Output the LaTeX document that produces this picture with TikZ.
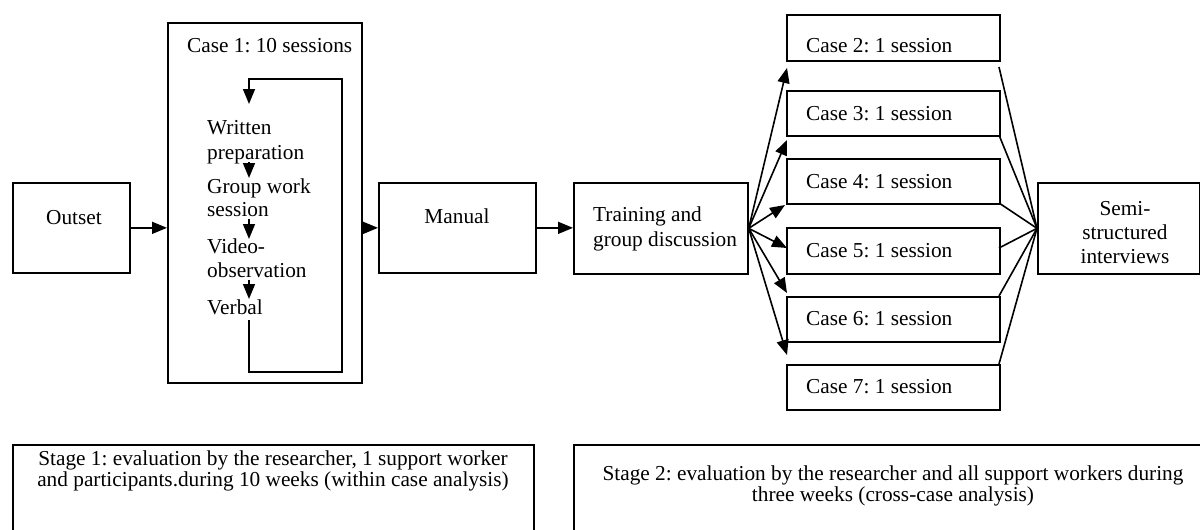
\documentclass[tikz,border=0pt]{standalone}
\usepackage{fontspec}
\setmainfont{Liberation Serif}
\usetikzlibrary{arrows.meta,calc}
\frenchspacing
\begin{document}
\begin{tikzpicture}[x=1pt,y=-1pt,
  box/.style={draw,line width=1.7pt,inner sep=0pt,anchor=north west},
  txt/.style={inner sep=0pt,anchor=base west,font=\fontsize{21.3}{25}\selectfont},
  ctxt/.style={inner sep=0pt,anchor=base,font=\fontsize{21.3}{25}\selectfont},
  arr/.style={line width=1.6pt,-{Triangle[length=15pt,width=12pt]}},
  ln/.style={line width=1.6pt}]
\useasboundingbox (0,0) rectangle (1200,530);

% boxes
\node[box,minimum width=117pt,minimum height=90pt] (outset) at (12,182) {};
\node[box,minimum width=194pt,minimum height=360pt] (case1) at (167,22) {};
\node[box,minimum width=157pt,minimum height=90pt] (manual) at (378,182) {};
\node[box,minimum width=174pt,minimum height=91pt] (train) at (573,182) {};
\node[box,minimum width=213pt,minimum height=46pt] (case2) at (786,14) {};
\node[box,minimum width=213pt,minimum height=45pt] (case3) at (786,90) {};
\node[box,minimum width=213pt,minimum height=45pt] (case4) at (786,158) {};
\node[box,minimum width=213pt,minimum height=46pt] (case5) at (786,227) {};
\node[box,minimum width=213pt,minimum height=45pt] (case6) at (786,296) {};
\node[box,minimum width=213pt,minimum height=45pt] (case7) at (786,364) {};
\node[box,minimum width=162pt,minimum height=91pt] (semi) at (1037,182) {};
\node[box,minimum width=521pt,minimum height=95pt] (stage1) at (12,444) {};
\node[box,minimum width=645pt,minimum height=95pt] (stage2) at (573,444) {};

% texts
\node[ctxt] (tOutset) at (74,224) {Outset};
\node[txt] (tCase1) at (187,52) {Case 1: 10 sessions};
\node[txt] (tWrA) at (207,134) {Written};
\node[txt] (tWrB) at (207,159) {preparation};
\node[txt] (tGrA) at (207,193) {Group work};
\node[txt] (tGrB) at (207,216) {session};
\node[txt] (tViA) at (207,253) {Video-};
\node[txt] (tViB) at (207,277) {observation};
\node[txt] (tVerbal) at (207,314) {Verbal};
\node[ctxt] (tManual) at (457,223) {Manual};
\node[txt] (tTrA) at (593,221) {Training and};
\node[txt] (tTrB) at (593,246) {group discussion};
\node[txt] (tC2) at (806,52) {Case 2: 1 session};
\node[txt] (tC3) at (806,120) {Case 3: 1 session};
\node[txt] (tC4) at (806,188) {Case 4: 1 session};
\node[txt] (tC5) at (806,257) {Case 5: 1 session};
\node[txt] (tC6) at (806,325) {Case 6: 1 session};
\node[txt] (tC7) at (806,393) {Case 7: 1 session};
\node[ctxt] (tSeA) at (1125,215) {Semi-};
\node[ctxt] (tSeB) at (1125,239) {structured};
\node[ctxt] (tSeC) at (1125,263) {interviews};
\node[ctxt] (tS1A) at (273,465) {Stage 1: evaluation by the researcher, 1 support worker};
\node[ctxt] (tS1B) at (273,486) {and participants.during 10 weeks (within case analysis)};
\node[ctxt] (tS2A) at (893,480) {Stage 2: evaluation by the researcher and all support workers during};
\node[ctxt] (tS2B) at (893,501) {three weeks (cross-case analysis)};

% main flow
\draw[arr] (outset.east) -- (outset.east -| case1.west);
\draw[arr] (manual.west -| case1.east) -- (manual.west);
\draw[arr] (manual.east) -- (manual.east -| train.west);

% work cycle inside case 1
\coordinate (loopOut) at (249,320);
\coordinate (loopIn) at (249,104);
\draw[arr] (loopOut) -- (249,372) -- (342,372) -- (342,79) -- (249,79) -- (loopIn);
\draw[arr] (tWrB.base -| loopIn) ++(0,3) -- (249,178);
\draw[arr] (tGrB.base -| loopIn) ++(0,3) -- (249,239);
\draw[arr] (tViB.base -| loopIn) ++(0,3) -- (249,299);

% fan out to the single-session cases
\coordinate (in2) at (787,68);
\coordinate (in3) at (787,140);
\coordinate (in4) at (785,205);
\coordinate (in5) at (787,248);
\coordinate (in6) at (787,293);
\coordinate (in7) at (787,355);
\foreach \c in {in2,in3,in4,in5,in6,in7}
  \draw[arr] (train.east) -- (\c);

% gather into the interviews
\coordinate (out2) at (999,67);
\coordinate (out3) at (999,135);
\coordinate (out4) at (999,203);
\coordinate (out5) at (999,248);
\coordinate (out6) at (999,296);
\coordinate (out7) at (999,364);
\foreach \c in {out2,out3,out4,out5,out6,out7}
  \draw[ln] (\c) -- (semi.west);
\end{tikzpicture}
\end{document}
